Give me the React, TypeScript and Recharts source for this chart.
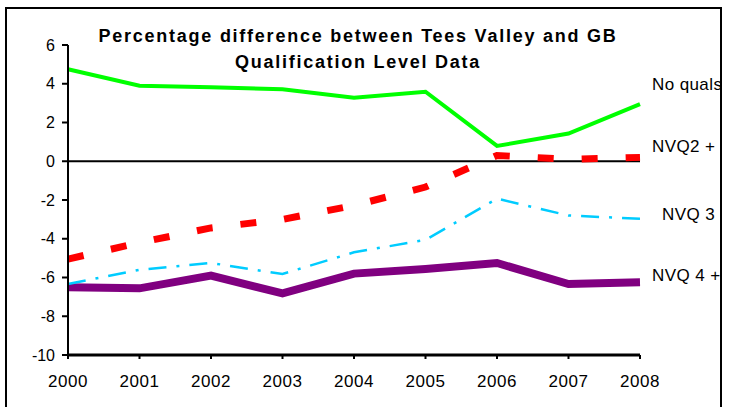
import React from "react";
import { LineChart, Line, XAxis, YAxis, ReferenceLine } from "recharts";

const years = ["2000", "2001", "2002", "2003", "2004", "2005", "2006", "2007", "2008"];
const noQuals = [4.75, 3.9, 3.82, 3.71, 3.28, 3.59, 0.79, 1.43, 2.95];
const nvq2 = [-5.05, -4.2, -3.44, -3.0, -2.28, -1.33, 0.3, 0.1, 0.2];
const nvq3 = [-6.34, -5.6, -5.25, -5.82, -4.7, -4.06, -1.93, -2.8, -2.97];
const nvq4 = [-6.5, -6.56, -5.9, -6.82, -5.8, -5.56, -5.25, -6.34, -6.25];
const yTicks = [-10, -8, -6, -4, -2, 0, 2, 4, 6];

const chartData = years.map((year, i) => ({
  year,
  noQuals: noQuals[i],
  nvq2: nvq2[i],
  nvq3: nvq3[i],
  nvq4: nvq4[i],
}));

const font = "'Liberation Sans', Arial, sans-serif";

const seriesLabels = [
  { text: "No quals", left: 652, mid: 85 },
  { text: "NVQ2 +", left: 652, mid: 147 },
  { text: "NVQ 3", left: 662, mid: 215 },
  { text: "NVQ 4 +", left: 652, mid: 276 },
];

export default function App() {
  return (
    <div
      style={{
        position: "fixed",
        left: 0,
        top: 0,
        width: 734,
        height: 407,
        overflow: "hidden",
        background: "#fff",
        fontFamily: font,
      }}
    >
      {/* chart frame */}
      <div
        style={{
          position: "absolute",
          left: 5,
          top: 7,
          width: 717,
          height: 420,
          boxSizing: "border-box",
          border: "2px solid #000",
        }}
      />

      <div
        style={{
          position: "absolute",
          left: 0,
          top: 23,
          width: 716,
          textAlign: "center",
          fontWeight: "bold",
          fontSize: 18,
          letterSpacing: 1.75,
          lineHeight: "26px",
          color: "#000",
        }}
      >
        Percentage difference between Tees Valley and GB
        <br />
        Qualification Level Data
      </div>

      <div style={{ position: "absolute", left: 0, top: 0, width: 720, height: 407, overflow: "hidden" }}>
        {seriesLabels.map((l) => (
          <div
            key={l.text}
            style={{
              position: "absolute",
              left: l.left,
              top: l.mid - 10,
              fontSize: 17,
              letterSpacing: 0.4,
              lineHeight: "20px",
              whiteSpace: "nowrap",
              color: "#000",
            }}
          >
            {l.text}
          </div>
        ))}
      </div>

      <div style={{ position: "absolute", left: 0, top: 0 }}>
        <LineChart
          width={734}
          height={407}
          data={chartData}
          margin={{ top: 45, right: 94, left: 28, bottom: 22 }}
        >
          <XAxis
            dataKey="year"
            height={30}
            axisLine={{ stroke: "#000", strokeWidth: 3 }}
            tickLine={{ stroke: "#000", strokeWidth: 2 }}
            tickSize={4}
            tickMargin={16}
            interval={0}
            tick={{ fill: "#000", fontSize: 17, fontFamily: font, letterSpacing: 0.6 }}
          />
          <YAxis
            width={40}
            domain={[-10, 6]}
            ticks={yTicks}
            interval={0}
            axisLine={{ stroke: "#000", strokeWidth: 2 }}
            tickLine={{ stroke: "#000", strokeWidth: 2 }}
            tickSize={6}
            tickMargin={7}
            tick={{ fill: "#000", fontSize: 16, fontFamily: font }}
          />
          <ReferenceLine y={0} stroke="#000" strokeWidth={2} />
          <Line
            dataKey="noQuals"
            type="linear"
            stroke="#00FF00"
            strokeWidth={4}
            dot={false}
            isAnimationActive={false}
          />
          <Line
            dataKey="nvq2"
            type="linear"
            stroke="#FF0000"
            strokeWidth={7}
            strokeDasharray="16 28"
            dot={false}
            isAnimationActive={false}
          />
          <Line
            dataKey="nvq4"
            type="linear"
            stroke="#800080"
            strokeWidth={8}
            dot={false}
            isAnimationActive={false}
          />
          <Line
            dataKey="nvq3"
            type="linear"
            stroke="#00CCFF"
            strokeWidth={2.5}
            strokeDasharray="18 10 3 10"
            dot={false}
            isAnimationActive={false}
          />
        </LineChart>
      </div>
    </div>
  );
}
